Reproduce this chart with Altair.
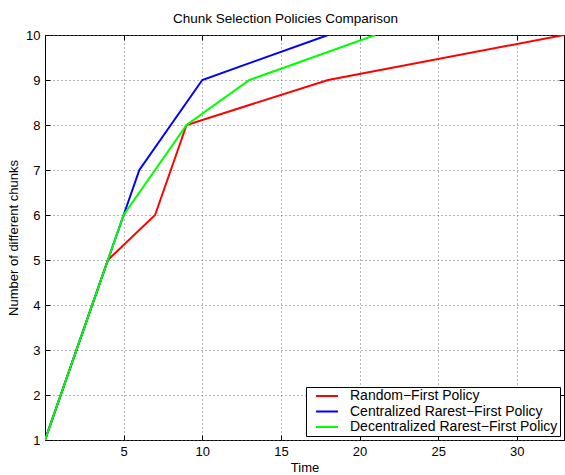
import altair as alt
import pandas as pd

# Series: time step vs. number of distinct chunks held
policies = [
    "Random−First Policy",
    "Centralized Rarest−First Policy",
    "Decentralized Rarest−First Policy",
]
colors = ["#ff0000", "#0000ff", "#00ff00"]

random_time = [0, 4, 7, 9, 18, 33]
random_chunks = [1, 5, 6, 8, 9, 10]
central_time = [0, 5, 6, 10, 18]
central_chunks = [1, 6, 7, 9, 10]
decentral_time = [0, 5, 9, 13, 21]
decentral_chunks = [1, 6, 8, 9, 10]

x_ticks = [5, 10, 15, 20, 25, 30]
y_ticks = [1, 2, 3, 4, 5, 6, 7, 8, 9, 10]

rows = []
for name, ts, cs in zip(
    policies,
    [random_time, central_time, decentral_time],
    [random_chunks, central_chunks, decentral_chunks],
):
    for i, (t, c) in enumerate(zip(ts, cs)):
        rows.append({"policy": name, "time": t, "chunks": c, "seq": i})
df = pd.DataFrame(rows)

FONT = "Liberation Sans"
x_scale = alt.Scale(domain=[0, 33], nice=False, zero=False)
y_scale = alt.Scale(domain=[1, 10], nice=False, zero=False)

common_axis = dict(
    domain=False,
    tickSize=5,
    offset=-5,
    tickColor="black",
    labelFont=FONT,
    labelFontSize=13,
    labelColor="black",
    titleFont=FONT,
    titleFontSize=13,
    titleFontWeight="normal",
    titleColor="black",
    grid=True,
    gridDash=[1, 3],
    gridColor="#666666",
    gridOpacity=1,
)

lines = alt.Chart(df).mark_line(strokeWidth=2, clip=True).encode(
    x=alt.X(
        "time:Q",
        scale=x_scale,
        axis=alt.Axis(
            orient="bottom", values=x_ticks, title="Time",
            labelPadding=5, titlePadding=3, **common_axis
        ),
    ),
    y=alt.Y(
        "chunks:Q",
        scale=y_scale,
        axis=alt.Axis(
            orient="left", values=y_ticks, title="Number of different chunks",
            labelPadding=5, titlePadding=5, **common_axis
        ),
    ),
    color=alt.Color(
        "policy:N",
        scale=alt.Scale(domain=policies, range=colors),
        legend=alt.Legend(
            title=None,
            orient="bottom-right",
            offset=4,
            fillColor="white",
            strokeColor="black",
            padding=2,
            symbolType="M-2,0H2",
            symbolSize=121,
            symbolStrokeWidth=2,
            symbolOffset=12,
            labelFont=FONT,
            labelFontSize=14,
            labelColor="black",
            labelLimit=0,
            labelOffset=16,
            rowPadding=1.5,
            cornerRadius=0,
        ),
    ),
    order="seq:O",
)

# Inward ticks on the top and right edges of the frame
frame_ticks = alt.Chart(df).mark_point(opacity=0).encode(
    x=alt.X(
        "time:Q",
        scale=x_scale,
        axis=alt.Axis(
            orient="top", values=x_ticks, labels=False, title=None,
            grid=False, domain=False, tickSize=5, offset=-5, tickColor="black",
        ),
    ),
    y=alt.Y(
        "chunks:Q",
        scale=y_scale,
        axis=alt.Axis(
            orient="right", values=y_ticks, labels=False, title=None,
            grid=False, domain=False, tickSize=5, offset=-5, tickColor="black",
        ),
    ),
)

chart = (
    alt.layer(lines, frame_ticks)
    .resolve_axis(x="independent", y="independent")
    .properties(
        width=519,
        height=405,
        title=alt.TitleParams(
            "Chunk Selection Policies Comparison",
            font=FONT,
            fontSize=13.5,
            fontWeight="normal",
            color="black",
            offset=4,
            dx=-19,
        ),
        autosize=alt.AutoSizeParams(type="none"),
        padding={"left": 45, "top": 35, "right": 1, "bottom": 35},
    )
    .configure_view(stroke="black", strokeWidth=1)
)

chart.save("out.html", embed_options={"renderer": "svg", "actions": False})
